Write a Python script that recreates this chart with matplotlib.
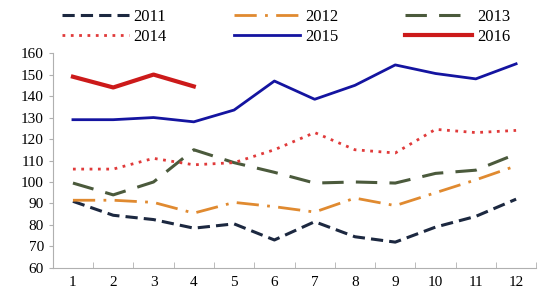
import matplotlib.pyplot as plt
import numpy as np

plt.rcParams['font.family'] = ['Liberation Serif', 'DejaVu Serif']

months = list(range(1, 13))
y2011 = [91, 84.5, 82.5, 78.5, 80.5, 73, 81.5, 74.5, 72, 79, 84, 92]
y2012 = [91.5, 91.5, 90.5, 85.5, 90.5, 88.5, 86, 92.5, 89, 95, 101, 107.5]
y2013 = [99.5, 94, 100, 115, 109, 104.5, 99.5, 100, 99.5, 104, 105.5, 113]
y2014 = [106, 106, 111, 108, 109, 115, 123, 115, 113.5, 124.5, 123, 124]
y2015 = [129, 129, 130, 128, 133.5, 147, 138.5, 145, 154.5, 150.5, 148, 155]
y2016 = [149, 144, 150, 144.5]

fig = plt.figure(figsize=(5.5, 3.0), dpi=100)
ax = fig.add_axes([0.096, 0.107, 0.879, 0.716])

l11, = ax.plot(months, y2011, color="#1c2840", linewidth=2.2, linestyle=(0, (4, 2)), label="2011")
l12, = ax.plot(months, y2012, color="#e08a30", linewidth=2.0, linestyle=(0, (8, 3, 1, 3)), label="2012")
l13, = ax.plot(months, y2013, color="#4b5a3c", linewidth=2.2, linestyle=(0, (7, 4)), label="2013")
l14, = ax.plot(months, y2014, color="#e03a3a", linewidth=2.0, linestyle=(0, (1, 2)), label="2014")
l15, = ax.plot(months, y2015, color="#1414a0", linewidth=2.0, label="2015")
l16, = ax.plot(months[:len(y2016)], y2016, color="#cc1a1a", linewidth=3.0, label="2016")

ax.set_xlim(0.5, 12.5)
ax.set_ylim(60, 160)
ax.set_yticks(np.arange(60, 161, 10))
ax.set_xticks(months)
ax.set_xticks(np.arange(0.5, 12.6, 1), minor=True)
ax.tick_params(axis="x", which="major", length=0, labelsize=11, pad=6)
ax.tick_params(axis="x", which="minor", length=4, direction="in", color="#b0b0b0")
ax.tick_params(axis="y", length=3, color="#b0b0b0", labelsize=11)

for s in ["top", "right"]:
    ax.spines[s].set_visible(False)
for s in ["left", "bottom"]:
    ax.spines[s].set_color("#b0b0b0")

# legend fills column-wise, so interleave to get 2011-2013 on the first row
handles = [l11, l14, l12, l15, l13, l16]
fig.legend(handles, [h.get_label() for h in handles], loc="upper center",
           bbox_to_anchor=(0.52, 1.02), ncol=3, frameon=False,
           fontsize=12, handlelength=4, columnspacing=4, labelspacing=0.25, handletextpad=0.3)

fig.savefig("out.png", dpi=100)
